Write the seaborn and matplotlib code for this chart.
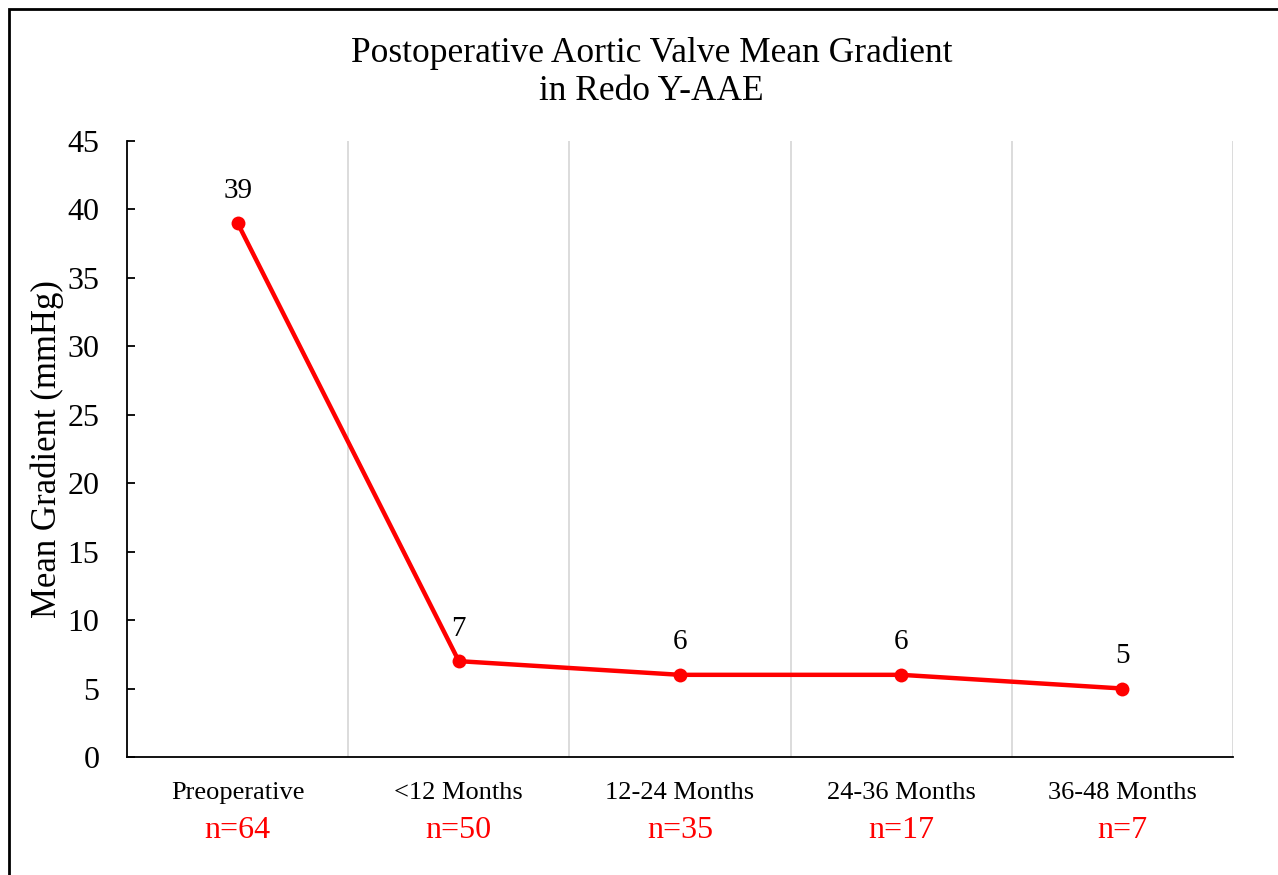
import matplotlib
matplotlib.use('Agg')
import pandas as pd
import matplotlib.pyplot as plt
import seaborn as sns
from matplotlib.patches import Rectangle

sns.set_style('white')
plt.rcParams['font.family'] = ['Liberation Serif', 'DejaVu Serif']
plt.rcParams['text.color'] = 'black'
plt.rcParams['axes.labelcolor'] = 'black'
plt.rcParams['xtick.color'] = 'black'
plt.rcParams['ytick.color'] = 'black'

periods = ['Preoperative', '<12 Months', '12-24 Months', '24-36 Months', '36-48 Months']
mean_gradient = [39, 7, 6, 6, 5]
n_labels = ['n=64', 'n=50', 'n=35', 'n=17', 'n=7']
y_ticks = [0, 5, 10, 15, 20, 25, 30, 35, 40, 45]

df = pd.DataFrame({'period': periods, 'gradient': mean_gradient})
df['pos'] = range(len(df))

fig = plt.figure(figsize=(12.78, 8.75), dpi=100)
ax = fig.add_axes([0.0994, 0.1349, 0.8654, 0.704])

sns.lineplot(data=df, x='pos', y='gradient', color='#FF0000', linewidth=3.2,
             marker='o', markersize=10, markeredgewidth=0, ax=ax)

# category separators as light grey lines
for b in [0.5, 1.5, 2.5, 3.5, 4.5]:
    ax.axvline(b, color='#D9D9D9', linewidth=1.3, zorder=0)

ax.set_xlim(-0.5, 4.5)
ax.set_ylim(0, 45)
ax.set_yticks(y_ticks)
ax.set_xticks(df['pos'])
ax.set_xticklabels(periods, fontsize=19)
ax.tick_params(axis='y', direction='in', length=6, width=1.3, labelsize=23, pad=20, left=True)
ax.tick_params(axis='x', length=0, pad=18)

for side in ['top', 'right']:
    ax.spines[side].set_visible(False)
ax.spines['left'].set_color('black')
ax.spines['left'].set_linewidth(1.3)
ax.spines['bottom'].set_color('black')
ax.spines['bottom'].set_linewidth(1.3)

ax.set_xlabel('')
ax.set_ylabel('Mean Gradient (mmHg)', fontsize=25, labelpad=2)

# value labels above the points
for x, v in zip(df['pos'], df['gradient']):
    ax.annotate(str(v), (x, v), xytext=(0, 14), textcoords='offset points',
                ha='center', va='bottom', fontsize=21)

# sample sizes under the tick labels
trans = ax.get_xaxis_transform()
for x, lab in zip(df['pos'], n_labels):
    ax.text(x, -0.12, lab, transform=trans, ha='center', va='center',
            fontsize=23, color='#FF0000')

fig.text(0.510, 0.917, 'Postoperative Aortic Valve Mean Gradient\nin Redo Y-AAE',
         ha='center', va='center', fontsize=25.5, linespacing=1.2)

# outer frame
fig.patches.append(Rectangle((9 / 1278, -0.05), 1.1, 1 - 9 / 875 + 0.05,
                             transform=fig.transFigure, fill=False,
                             edgecolor='black', linewidth=2))

fig.savefig('out.png', dpi=100)
